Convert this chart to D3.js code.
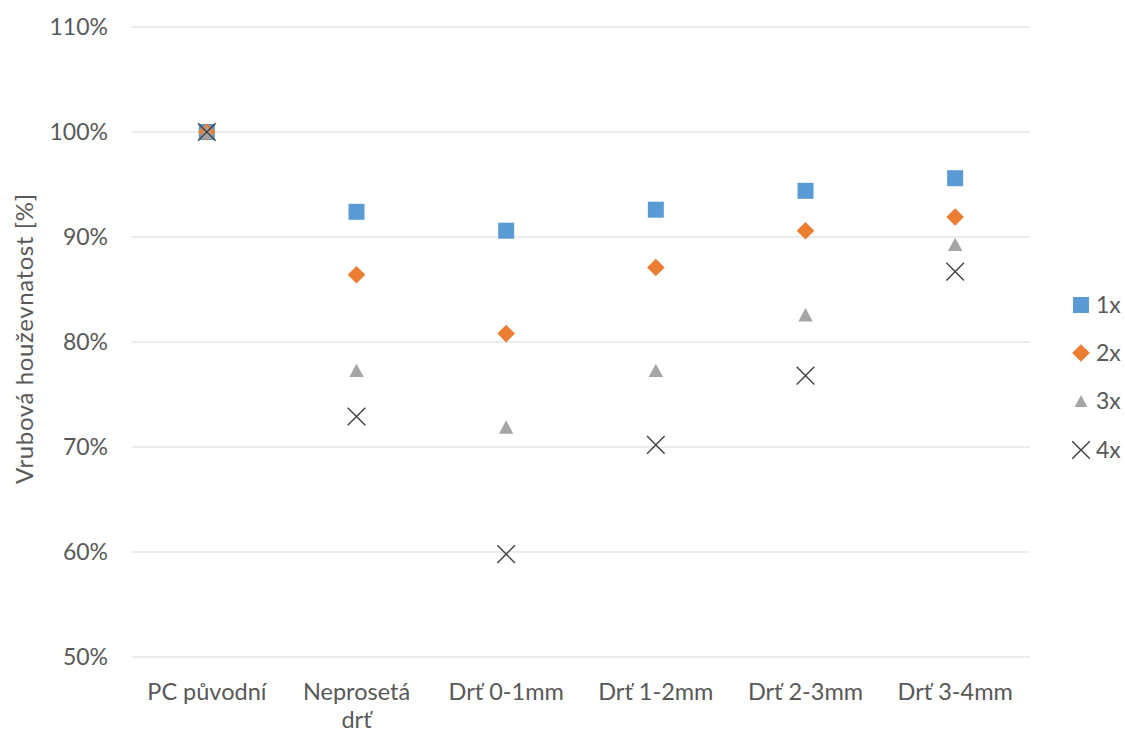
<!DOCTYPE html>
<html>
<head>
<meta charset="utf-8">
<script src="https://cdn.jsdelivr.net/npm/d3@7"></script>
<style>
  html, body { margin: 0; padding: 0; background: #fff; }
  svg text { font-family: Lato, "Open Sans", sans-serif; fill: #595959; }
</style>
</head>
<body>
<svg id="chart" width="1125" height="733"></svg>
<script>
// Notch toughness relative to original PC, by regrind fraction and number of reprocessing cycles
const categories = ["PC původní", "Neprosetá drť", "Drť 0-1mm", "Drť 1-2mm", "Drť 2-3mm", "Drť 3-4mm"];
const seriesNames = ["1x", "2x", "3x", "4x"];
const values1x = [100, 92.4, 90.6, 92.6, 94.4, 95.6];
const values2x = [100, 86.4, 80.8, 87.1, 90.6, 91.9];
const values3x = [100, 77.3, 71.9, 77.3, 82.6, 89.3];
const values4x = [100, 72.9, 59.8, 70.2, 76.8, 86.7];
const yTicks = [50, 60, 70, 80, 90, 100, 110];
const yTitle = "Vrubová houževnatost [%]";

const series = [
  { name: seriesNames[0], values: values1x, shape: "square",   color: "#5b9bd5" },
  { name: seriesNames[1], values: values2x, shape: "diamond",  color: "#ed7d31" },
  { name: seriesNames[2], values: values3x, shape: "triangle", color: "#a5a5a5" },
  { name: seriesNames[3], values: values4x, shape: "cross",    color: "#404040" }
];

const svg = d3.select("#chart");
const plot = { left: 132, right: 1030, top: 27, bottom: 657 };

const x = d3.scaleBand().domain(categories).range([plot.left, plot.right]);
const y = d3.scaleLinear().domain([50, 110]).range([plot.bottom, plot.top]);

// horizontal gridlines
svg.append("g")
  .selectAll("line")
  .data(yTicks)
  .join("line")
  .attr("x1", plot.left).attr("x2", plot.right)
  .attr("y1", d => y(d)).attr("y2", d => y(d))
  .attr("stroke", "#d9d9d9").attr("stroke-width", 1);

// y axis labels
const yAxis = d3.axisLeft(y).tickValues(yTicks).tickSize(0).tickPadding(24).tickFormat(d => d + "%");
svg.append("g")
  .attr("transform", `translate(${plot.left},0)`)
  .call(yAxis)
  .call(g => g.select(".domain").remove())
  .call(g => g.selectAll("text")
    .style("font-family", "Lato, sans-serif")
    .style("font-size", "23px")
    .attr("fill", "#595959"));

// x axis labels (wrapped to fit the band)
const xAxis = d3.axisBottom(x).tickSize(0).tickPadding(0);
const xg = svg.append("g")
  .attr("transform", `translate(0,${plot.bottom})`)
  .call(xAxis)
  .call(g => g.select(".domain").remove());
xg.selectAll("text").each(function(d) {
  const t = d3.select(this);
  t.text(null)
    .attr("y", 0)
    .attr("dy", null)
    .style("font-family", "Lato, sans-serif")
    .style("font-size", "23.5px")
    .attr("fill", "#595959");
  const lines = d === "Neprosetá drť" ? ["Neprosetá", "drť"] : [d];
  lines.forEach((ln, i) => {
    t.append("tspan").attr("x", 0).attr("y", 43 + i * 28).text(ln);
  });
});

// y axis title
svg.append("text")
  .attr("transform", `translate(33,${339}) rotate(-90)`)
  .attr("text-anchor", "middle")
  .attr("textLength", 290)
  .attr("lengthAdjust", "spacing")
  .style("font-size", "24px")
  .text(yTitle);

// marker drawing
function drawMarker(sel, shape, color, s) {
  if (shape === "square") {
    sel.append("rect").attr("x", -s / 2).attr("y", -s / 2).attr("width", s).attr("height", s)
      .attr("fill", color);
  } else if (shape === "diamond") {
    const h = s * 0.55;
    sel.append("path").attr("d", `M0,${-h}L${h},0L0,${h}L${-h},0Z`).attr("fill", color);
  } else if (shape === "triangle") {
    const w = s * 0.45, ht = s * 0.42;
    sel.append("path").attr("d", `M0,${-ht}L${w},${ht}L${-w},${ht}Z`).attr("fill", color);
  } else {
    const h = s * 0.55;
    sel.append("path").attr("d", `M${-h},${-h}L${h},${h}M${h},${-h}L${-h},${h}`)
      .attr("stroke", color).attr("stroke-width", 1.4).attr("fill", "none");
  }
}

const cx = c => x(c) + x.bandwidth() / 2;

series.forEach(s => {
  const g = svg.append("g");
  s.values.forEach((v, i) => {
    const m = g.append("g").attr("transform", `translate(${cx(categories[i])},${y(v)})`);
    drawMarker(m, s.shape, s.color, 16);
  });
});

// legend
const legend = svg.append("g");
const legendY = [305, 353, 401, 450];
series.forEach((s, i) => {
  const m = legend.append("g").attr("transform", `translate(1081,${legendY[i]})`);
  drawMarker(m, s.shape, s.color, s.shape === "triangle" ? 14 : 16);
  legend.append("text")
    .attr("x", 1096).attr("y", legendY[i]).attr("dy", "0.36em")
    .style("font-size", "23px")
    .text(s.name);
});
</script>
</body>
</html>
